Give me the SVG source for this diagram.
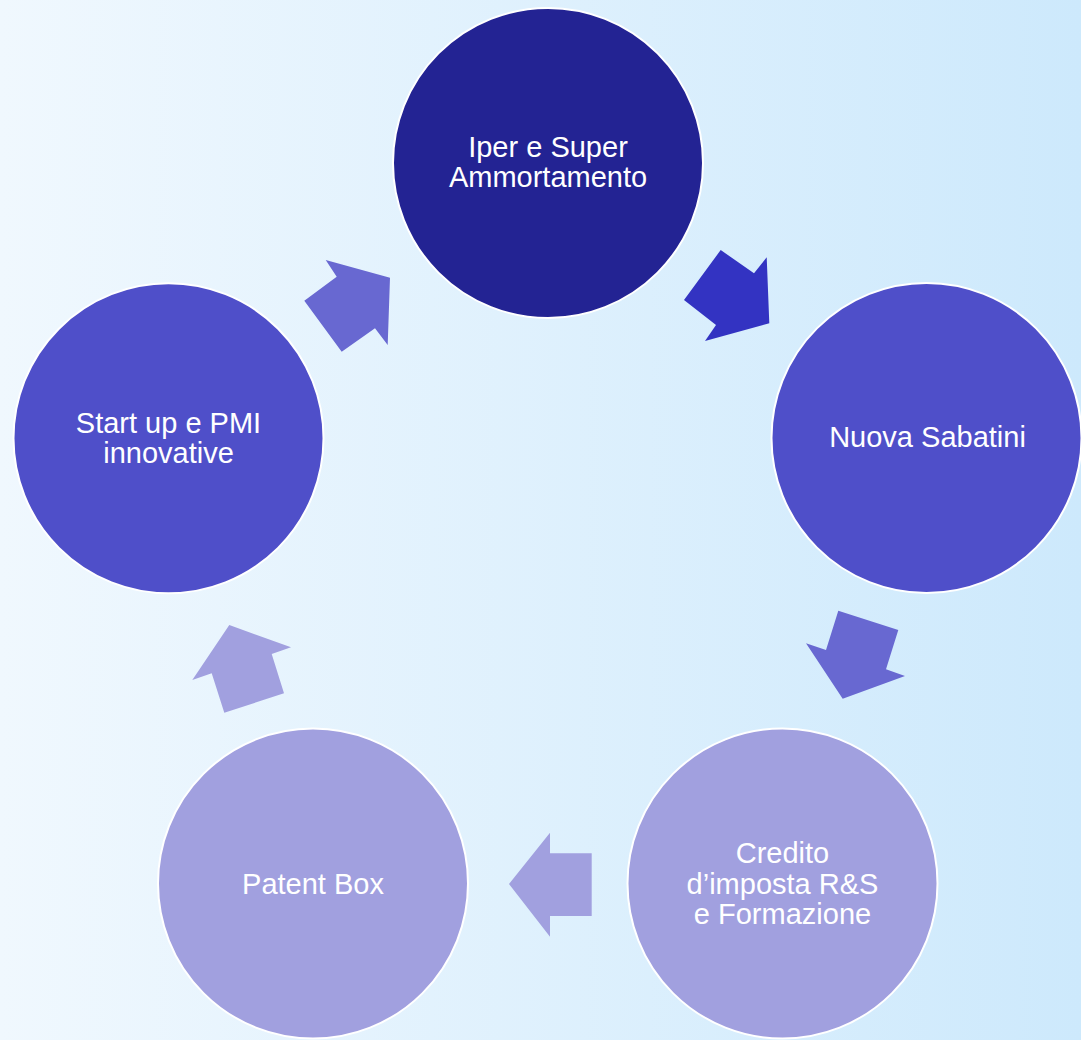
<svg xmlns="http://www.w3.org/2000/svg" width="1081" height="1040" viewBox="0 0 1081 1040">
  <defs>
    <linearGradient id="bg" x1="0" y1="0" x2="1" y2="0">
      <stop offset="0" stop-color="#F0F8FE"/>
      <stop offset="1" stop-color="#CDE9FC"/>
    </linearGradient>
    <style>
      .node { stroke: #FFFFFF; stroke-width: 2; }
      .label { font-family: "Liberation Sans", Arial, sans-serif; font-size: 29px; fill: #FFFFFF; text-anchor: middle; }
      .c1 { fill: #232393; }
      .c2 { fill: #4F4FC9; }
      .c3 { fill: #A1A0DF; }
      .a1 { fill: #3333C2; }
      .a2 { fill: #6868D1; }
      .a3 { fill: #A1A0DF; }
    </style>
  </defs>
  <rect x="0" y="0" width="1081" height="1040" fill="url(#bg)"/>

  <g id="connectors">
    <polygon class="a1" points="720.7,250 754,273.3 766.7,257.3 769.3,323.3 705,341 716,325 684,300"/>
    <polygon class="a2" points="838.3,610.7 898.3,630 886,669.3 905,676 842.7,698.7 806,643.3 826,650"/>
    <polygon class="a3" points="591.7,853.3 591.7,916 550,916 550,936.7 509,884 550,832.7 550,853.3"/>
    <polygon class="a3" points="229.3,625 291,647.3 271.7,654 284,693.3 224.3,712.7 211.7,673.3 192.3,680"/>
    <polygon class="a2" points="325.7,260 390,277.7 387.7,345 375,328.3 341.7,351.7 304.3,300.7 336.7,276.7"/>
  </g>

  <g id="node-iper">
    <circle class="node c1" cx="548" cy="163" r="155"/>
    <text class="label" x="548" y="157">Iper e Super</text>
    <text class="label" x="548" y="187">Ammortamento</text>
  </g>

  <g id="node-sabatini">
    <circle class="node c2" cx="926.5" cy="438" r="155"/>
    <text class="label" x="927.5" y="447">Nuova Sabatini</text>
  </g>

  <g id="node-credito">
    <circle class="node c3" cx="782.5" cy="883.5" r="155"/>
    <text class="label" x="782.5" y="863">Credito</text>
    <text class="label" x="782.5" y="893.5">d’imposta R&amp;S</text>
    <text class="label" x="782.5" y="924">e Formazione</text>
  </g>

  <g id="node-patent">
    <circle class="node c3" cx="313" cy="883.5" r="155"/>
    <text class="label" x="313" y="893.5">Patent Box</text>
  </g>

  <g id="node-startup">
    <circle class="node c2" cx="168.5" cy="438.3" r="155"/>
    <text class="label" x="168.5" y="432.5">Start up e PMI</text>
    <text class="label" x="168.5" y="462.7">innovative</text>
  </g>
</svg>
